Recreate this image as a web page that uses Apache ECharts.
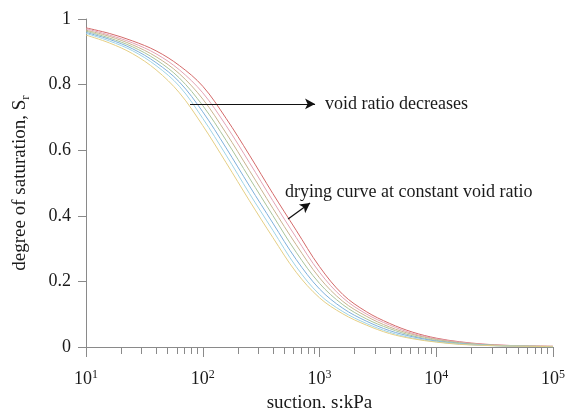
<!DOCTYPE html>
<html>
<head>
<meta charset="utf-8">
<script src="https://cdn.jsdelivr.net/npm/echarts@6/dist/echarts.min.js"></script>
<style>
  html, body { margin: 0; padding: 0; background: #fff; }
  #chart { width: 569px; height: 408px; }
</style>
</head>
<body>
<div id="chart"></div>
<script>
// Suction values (kPa), log-spaced from 10 to 1e5
const suction = [10, 15.85, 25.12, 39.81, 63.1, 100, 158.5, 251.2, 398.1, 631, 1000,
                 1585, 2512, 3981, 6310, 10000, 15849, 25119, 39811, 63096, 100000];

// Degree of saturation on drying curves, one per void ratio (largest e first)
const sr_e1 = [0.973, 0.956, 0.933, 0.903, 0.858, 0.795, 0.697, 0.585, 0.468, 0.356, 0.245,
               0.160, 0.108, 0.072, 0.045, 0.027, 0.016, 0.009, 0.005, 0.003, 0.002];
const sr_e2 = [0.970, 0.951, 0.927, 0.894, 0.845, 0.775, 0.675, 0.562, 0.446, 0.334, 0.228,
               0.150, 0.101, 0.067, 0.041, 0.025, 0.015, 0.008, 0.005, 0.003, 0.002];
const sr_e3 = [0.966, 0.947, 0.921, 0.885, 0.833, 0.756, 0.652, 0.538, 0.423, 0.312, 0.211,
               0.139, 0.094, 0.061, 0.038, 0.023, 0.013, 0.007, 0.004, 0.003, 0.002];
const sr_e4 = [0.963, 0.942, 0.915, 0.876, 0.820, 0.736, 0.630, 0.515, 0.401, 0.289, 0.194,
               0.129, 0.086, 0.056, 0.034, 0.020, 0.012, 0.007, 0.004, 0.002, 0.001];
const sr_e5 = [0.959, 0.938, 0.909, 0.867, 0.808, 0.717, 0.607, 0.491, 0.378, 0.267, 0.177,
               0.118, 0.079, 0.050, 0.031, 0.018, 0.010, 0.006, 0.003, 0.002, 0.001];
const sr_e6 = [0.956, 0.933, 0.903, 0.858, 0.795, 0.697, 0.585, 0.468, 0.356, 0.245, 0.160,
               0.108, 0.072, 0.045, 0.027, 0.016, 0.009, 0.005, 0.003, 0.002, 0.001];
const sr_e7 = [0.951, 0.927, 0.894, 0.845, 0.775, 0.675, 0.562, 0.446, 0.334, 0.228, 0.150,
               0.101, 0.067, 0.041, 0.025, 0.015, 0.008, 0.005, 0.003, 0.002, 0.001];

const curves = [sr_e1, sr_e2, sr_e3, sr_e4, sr_e5, sr_e6, sr_e7];
const curveColors = ['#d46a6a', '#e3a3b5', '#c9b38f', '#a9c49a', '#7fb0dc', '#9fd3e6', '#e5cf85'];

// Tick labels
const yTicks = [0, 0.2, 0.4, 0.6, 0.8, 1];
const xMajor = [10, 100, 1000, 10000, 100000];
const xMinor = [];
for (let d = 10; d < 100000; d *= 10) {
  for (let k = 2; k <= 9; k++) xMinor.push(k * d);
}

// Annotation anchors in data coordinates
const arrowVoid = [[77.8, 0.741], [916, 0.741]];
const arrowDrying = [[538, 0.390], [830, 0.439]];
const textVoid = { text: 'void ratio decreases', at: [1117, 0.741] };
const textDrying = { text: 'drying curve at constant void ratio', at: [507, 0.473] };

const FONT = '"Liberation Serif", "DejaVu Serif", serif';
const TXT = '#1a1a1a';
const AXIS = '#8a8a8a';

const chart = echarts.init(document.getElementById('chart'), null, { renderer: 'canvas' });

const series = curves.map((vals, i) => ({
  type: 'line',
  name: 'e' + (i + 1),
  data: suction.map((s, j) => [s, vals[j]]),
  showSymbol: false,
  smooth: 0.35,
  lineStyle: { color: curveColors[i], width: 1 },
  z: 2,
  silent: true
}));

// Arrows drawn as mark lines in data space
series[0].markLine = {
  silent: true,
  symbol: ['none', 'arrow'],
  symbolSize: [8, 10],
  lineStyle: { color: '#111', width: 1.2, type: 'solid' },
  label: { show: false },
  data: [
    [{ coord: arrowVoid[0] }, { coord: arrowVoid[1] }],
    [{ coord: arrowDrying[0] }, { coord: arrowDrying[1] }]
  ]
};

chart.setOption({
  animation: false,
  grid: { left: 86, right: 16, top: 19, bottom: 61, containLabel: false, outerBoundsMode: 'none' },
  xAxis: [{
    type: 'log',
    logBase: 10,
    min: 10,
    max: 100000,
    name: 'suction, s:kPa',
    nameLocation: 'middle',
    nameGap: 43,
    nameTextStyle: { fontFamily: FONT, fontSize: 19, color: TXT },
    axisLine: { lineStyle: { color: AXIS, width: 1 } },
    axisTick: { show: true, length: 10, lineStyle: { color: AXIS } },
    splitLine: { show: false },
    axisLabel: {
      margin: 22,
      fontFamily: FONT,
      fontSize: 18,
      color: TXT,
      formatter: v => '10{sup|' + Math.round(Math.log10(v)) + '}',
      rich: {
        sup: { fontFamily: FONT, fontSize: 12, color: TXT, verticalAlign: 'top', padding: [0, 0, 9, 0] }
      }
    }
  }, {
    // minor decade ticks (2..9 × 10^n)
    type: 'log',
    logBase: 10,
    min: 10,
    max: 100000,
    position: 'bottom',
    axisLine: { show: false },
    axisLabel: { show: false },
    splitLine: { show: false },
    axisTick: { show: true, length: 7, customValues: xMinor, lineStyle: { color: AXIS } }
  }],
  yAxis: {
    type: 'value',
    min: 0,
    max: 1,
    interval: 0.2,
    name: 'degree of saturation, S{sub|r}',
    nameLocation: 'middle',
    nameGap: 54,
    nameRotate: 90,
    nameTextStyle: {
      fontFamily: FONT, fontSize: 19, color: TXT,
      rich: { sub: { fontFamily: FONT, fontSize: 13, color: TXT, padding: [10, 0, 0, 0] } }
    },
    axisLine: { show: true, lineStyle: { color: AXIS, width: 1 } },
    axisTick: { show: true, length: 8, lineStyle: { color: AXIS } },
    splitLine: { show: false },
    axisLabel: {
      margin: 15,
      fontFamily: FONT,
      fontSize: 18,
      color: TXT,
      formatter: v => String(Math.round(v * 10) / 10)
    }
  },
  series: series
});

// Annotation texts placed from data coordinates
function place(item) {
  const p = chart.convertToPixel({ xAxisIndex: 0, yAxisIndex: 0 }, item.at);
  return {
    type: 'text',
    x: p[0],
    y: p[1],
    style: {
      text: item.text,
      fontFamily: FONT,
      fontSize: 18,
      fill: TXT,
      verticalAlign: 'middle',
      align: 'left'
    },
    silent: true
  };
}
chart.setOption({ graphic: [place(textVoid), place(textDrying)] });
</script>
</body>
</html>
